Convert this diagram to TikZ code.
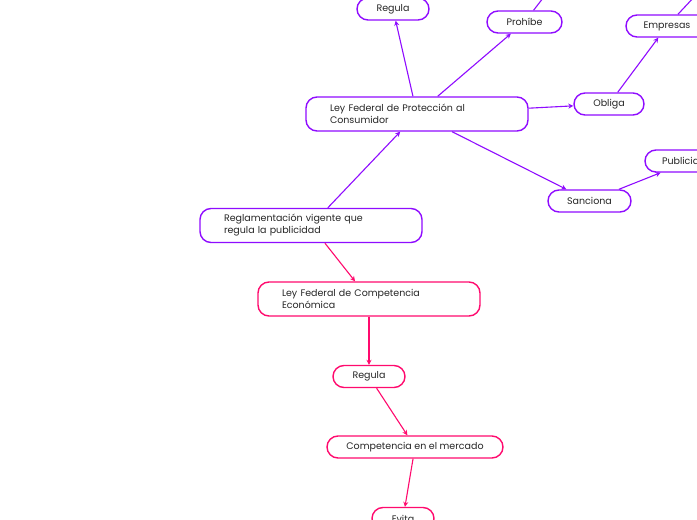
\documentclass[tikz,border=0pt]{standalone}
\usepackage{fontspec}
\setmainfont{Poppins}
\usetikzlibrary{arrows.meta}
\definecolor{purp}{HTML}{8F0CFF}
\definecolor{pinkc}{HTML}{FF0A6E}
\begin{document}
\begin{tikzpicture}[x=1pt,y=-1pt,
  box/.style={draw, line width=1.4pt, rounded corners=11pt, fill=white, font=\fontsize{9.5}{12}\selectfont, text=black!85, inner sep=0pt},
  pbox/.style={box, draw=purp},
  kbox/.style={box, draw=pinkc},
  wide/.style={text width=174pt, align=left, inner xsep=24pt, minimum height=34pt, minimum width=222pt},
  small/.style={minimum height=22pt},
  parr/.style={draw=purp, line width=1.1pt, -{Stealth[length=5pt,width=5pt]}},
  karr/.style={draw=pinkc, line width=1.1pt, -{Stealth[length=5pt,width=5pt]}},
  pline/.style={draw=purp, line width=1.1pt}
]
\useasboundingbox (0,0) rectangle (697,520);
\clip (0,0) rectangle (697,520);
\fill[white] (0,0) rectangle (697,520);

\node[pbox, wide] (ley) at (417,114) {Ley Federal de Protección al\\Consumidor};
\node[pbox, small, minimum width=72pt] (regula1) at (393,9) {Regula};
\node[pbox, small, minimum width=75pt] (prohibe) at (524.5,22) {Prohíbe};
\node[pbox, small, minimum width=70pt] (obliga) at (609,104) {Obliga};
\node[pbox, small, minimum width=82pt] (empresas) at (667,26) {Empresas};
\node[pbox, small, minimum width=90pt, text width=74pt, align=left, inner xsep=0pt] (publicidad) at (690,161) {\hspace*{9pt}Publicidad};
\node[pbox, small, minimum width=83pt] (sanciona) at (589.5,201) {Sanciona};
\node[pbox, wide] (regla) at (311,225.5) {Reglamentación vigente que\\regula la publicidad};
\node[kbox, wide] (lfce) at (369,299) {Ley Federal de Competencia\\Económica};
\node[kbox, small, minimum width=72pt] (regula2) at (369,376.5) {Regula};
\node[kbox, small, minimum width=176pt] (compet) at (415,447) {Competencia en el mercado};
\node[kbox, small, minimum width=62pt] (evita) at (403,518.5) {Evita};

\coordinate (p1) at (557,-20);
\coordinate (e1) at (710,-20);

\draw[parr] (ley) -- (regula1);
\draw[parr] (ley) -- (prohibe);
\draw[pline] (prohibe) -- (p1);
\draw[parr] (ley) -- (obliga);
\draw[parr] (obliga) -- (empresas);
\draw[pline] (empresas) -- (e1);
\draw[parr] (ley) -- (sanciona);
\draw[parr] (sanciona) -- (publicidad);
\draw[parr] (regla) -- (ley);
\draw[karr] (regla) -- (lfce);
\draw[karr] (lfce) -- (regula2);
\draw[karr] (regula2) -- (compet);
\draw[karr] (compet) -- (evita);
\end{tikzpicture}
\end{document}
